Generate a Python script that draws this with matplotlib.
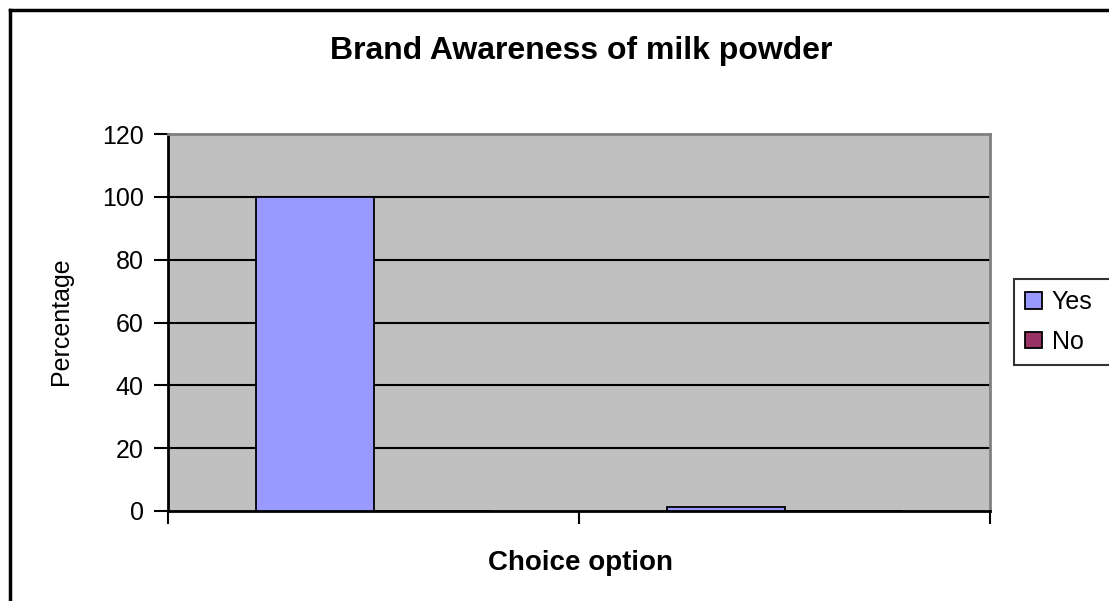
import matplotlib
matplotlib.use("Agg")
import matplotlib.pyplot as plt
from matplotlib.lines import Line2D
import numpy as np

plt.rcParams['font.family'] = ['Liberation Sans', 'DejaVu Sans']

# Chart data
series_names = ["Yes", "No"]
yes_values = [100, 1.3]
no_values = [0, 0]
y_ticks = [0, 20, 40, 60, 80, 100, 120]
title = "Brand Awareness of milk powder"
x_title = "Choice option"
y_title = "Percentage"

W, H = 1109, 601
fig = plt.figure(figsize=(W / 100, H / 100), dpi=100)
fig.patch.set_facecolor("white")

# plot area in pixel coordinates
left_px, right_px, top_px, bottom_px = 168, 990, 134, 511
ax = fig.add_axes([left_px / W, (H - bottom_px) / H,
                   (right_px - left_px) / W, (bottom_px - top_px) / H])
ax.set_facecolor("#C0C0C0")

n = len(yes_values)
x = np.arange(n)
bar_w = 1 / 3.5
ax.bar(x - bar_w / 2, yes_values, width=bar_w, color="#9999FF",
       edgecolor="black", linewidth=1.3, label=series_names[0], zorder=3)
ax.bar(x + bar_w / 2, no_values, width=bar_w, color="#993366",
       edgecolor="black", linewidth=1.3, label=series_names[1], zorder=3)

ax.set_xlim(-0.5, n - 0.5)
ax.set_ylim(y_ticks[0], y_ticks[-1])
ax.set_yticks(y_ticks)
ax.set_xticks(np.arange(n + 1) - 0.5)
ax.set_xticklabels([])
ax.tick_params(axis="y", direction="out", length=10, width=1.5,
               labelsize=18, pad=7.5, colors="black")
ax.tick_params(axis="x", direction="out", length=9, width=1.5)

for gy in y_ticks[1:-1]:
    ax.axhline(gy, color="black", linewidth=1.5, zorder=1)

for side in ("left", "bottom"):
    ax.spines[side].set_color("black")
    ax.spines[side].set_linewidth(2)
for side in ("top", "right"):
    ax.spines[side].set_color("#808080")
    ax.spines[side].set_linewidth(2)

# titles
fig.text(581 / W, (H - 51) / H, title, ha="center", va="center",
         fontsize=23, fontweight="bold")
fig.text(581 / W, (H - 563) / H, x_title, ha="center", va="center",
         fontsize=20, fontweight="bold")
fig.text(61 / W, (H - 321) / H, y_title, ha="center", va="center",
         rotation=90, fontsize=18)

# legend, box runs off the right edge
leg = fig.legend(loc="upper left",
                 bbox_to_anchor=(1014 / W, (H - 363) / H, 130 / W, 84 / H),
                 mode="expand", fontsize=18, frameon=True, fancybox=False,
                 handlelength=0.65, handleheight=0.65, handletextpad=0.4,
                 labelspacing=0.62, borderpad=0.45, borderaxespad=0)
leg.get_frame().set_edgecolor("black")
leg.get_frame().set_linewidth(1.5)

# outer chart border
fig.add_artist(Line2D([9.5 / W, 9.5 / W], [0, (H - 10) / H],
                      transform=fig.transFigure, color="black", linewidth=2.5))
fig.add_artist(Line2D([9.5 / W, 1.0], [(H - 10) / H, (H - 10) / H],
                      transform=fig.transFigure, color="black", linewidth=2.5))

fig.savefig("out.png", dpi=100, facecolor="white")
